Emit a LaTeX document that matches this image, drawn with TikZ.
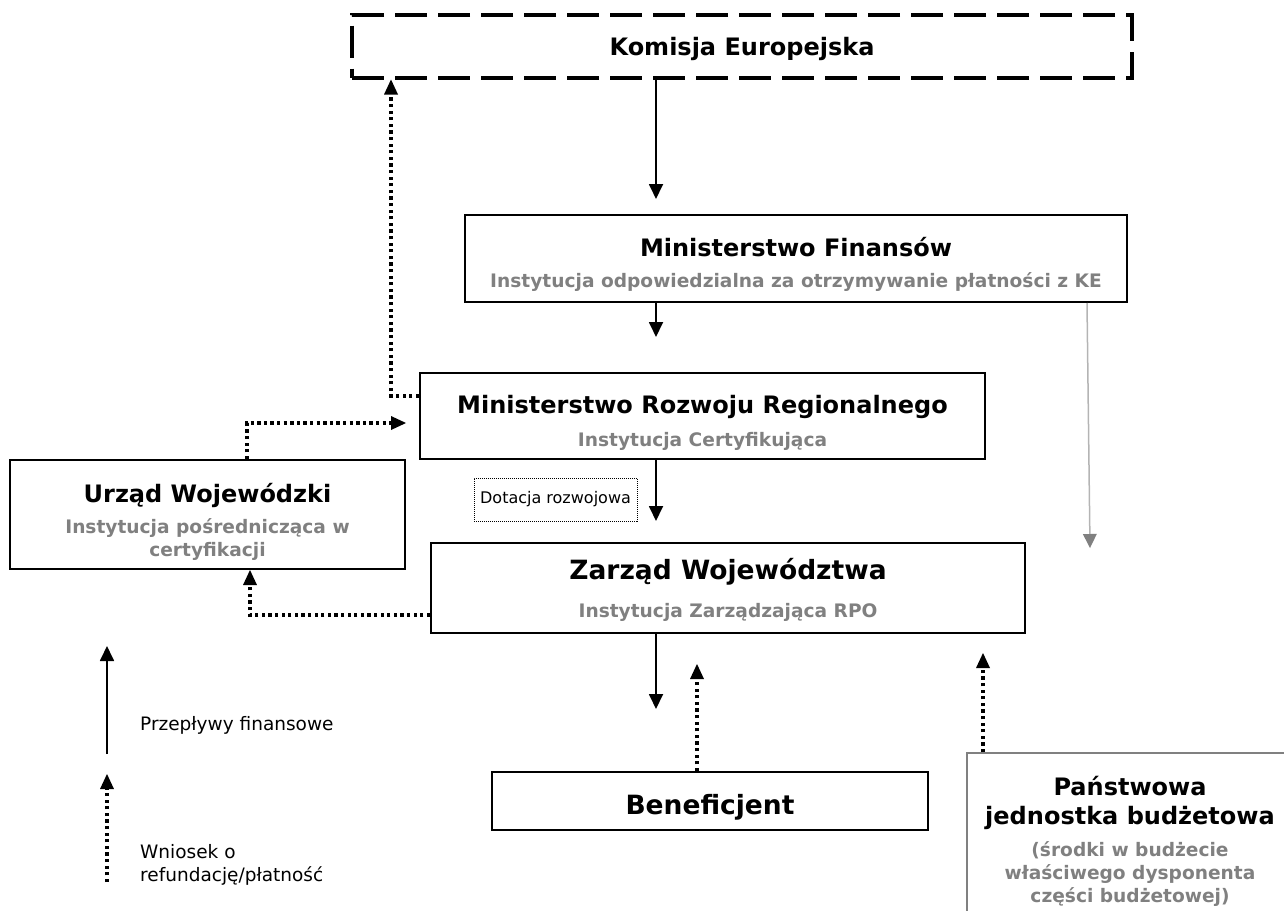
\documentclass[tikz,border=0pt]{standalone}
\usepackage{fontspec}
\usepackage{xcolor}
\setmainfont{DejaVu Sans}
\usetikzlibrary{arrows.meta,positioning}

\definecolor{subgrey}{HTML}{808080}
\definecolor{linegrey}{HTML}{B4B4B4}
\newcommand\boxtitle{\fontsize{24}{29}\selectfont\bfseries}
\newcommand\bigtitle{\fontsize{26.5}{31}\selectfont\bfseries}
\newcommand\boxsub{\fontsize{18.6}{23}\selectfont\bfseries\color{subgrey}}
\newcommand\topstrut[1]{\rule{0pt}{#1pt}}

\tikzset{
  box/.style={draw, line width=2pt, align=center, inner sep=0pt,
    font=\fontsize{18.6}{23}\selectfont},
  legend/.style={anchor=west, align=left, inner sep=0pt,
    font=\fontsize{18.5}{23}\selectfont},
  flow/.style={line width=1.8pt, -{Triangle[width=14pt,length=15pt]}},
  req/.style={line width=3.3pt, dash pattern=on 3.3pt off 3.3pt,
    -{Triangle[width=14pt,length=15pt,line width=0pt]}},
  greyflow/.style={line width=1.5pt, linegrey,
    -{Triangle[width=14pt,length=14pt,line width=0pt,color=subgrey]}},
}

\begin{document}
\begin{tikzpicture}[x=1pt,y=-1pt]
  \useasboundingbox (0,0) rectangle (1284,910);

  \node[box, line width=4pt, dash pattern=on 32pt off 11pt,
        minimum width=780pt, minimum height=63pt] (ke) at (742,46)
    {\topstrut{24.6}\boxtitle Komisja Europejska};
  \node[box, minimum width=662pt, minimum height=87pt] (mf) at (796,258.5)
    {\topstrut{31.4}\boxtitle Ministerstwo Finansów\\[8pt]\boxsub Instytucja odpowiedzialna za otrzymywanie płatności z KE};
  \node[box, minimum width=565pt, minimum height=86pt] (mrr) at (702.5,416)
    {\topstrut{31.4}\boxtitle Ministerstwo Rozwoju Regionalnego\\[10pt]\boxsub Instytucja Certyfikująca};
  \node[box, minimum width=395pt, minimum height=109pt] (uw) at (207.5,514.5)
    {\topstrut{33.4}\boxtitle Urząd Wojewódzki\\[8pt]\boxsub Instytucja pośrednicząca w\\\boxsub certyfikacji};
  \node[box, minimum width=594pt, minimum height=90pt] (zw) at (728,588)
    {\topstrut{24.4}\bigtitle Zarząd Województwa\\[15pt]\boxsub Instytucja Zarządzająca RPO};
  \node[box, minimum width=436pt, minimum height=58pt] (ben) at (710,801)
    {\topstrut{32.4}\bigtitle Beneficjent};
  \node[box, draw=subgrey, line width=1.5pt,
        minimum width=326pt, minimum height=174pt] (pjb) at (1130,840)
    {\topstrut{21.4}\boxtitle Państwowa\\[6pt]\boxtitle jednostka budżetowa\\[9pt]\boxsub (środki w budżecie\\\boxsub właściwego dysponenta\\\boxsub części budżetowej)};
  \node[draw, line width=1pt, dash pattern=on 1pt off 1pt, inner sep=0pt,
        minimum width=163pt, minimum height=43pt, font=\fontsize{16}{19}\selectfont] (dot) at (555.5,499.5) {Dotacja rozwojowa};

  \coordinate (colA) at (656,0);
  \coordinate (colB) at (697,0);
  \coordinate (colC) at (983,0);
  \coordinate (colD) at (391,0);
  \coordinate (colE) at (247,0);
  \coordinate (colF) at (250,0);
  \coordinate (gx) at (1087,0);
  \coordinate (greyend) at (1090,548);

  \draw[flow, shorten >=15pt] (ke.south -| colA) -- (mf.north -| colA);
  \draw[flow, shorten >=35pt] (mf.south -| colA) -- (mrr.north -| colA);
  \draw[flow, shorten >=21pt] (mrr.south -| colA) -- (zw.north -| colA);
  \draw[flow, shorten >=62pt] (zw.south -| colA) -- (ben.north -| colA);
  \draw[greyflow] (mf.south -| gx) -- (greyend);

  \draw[req, shorten >=30pt] (ben.north -| colB) -- (zw.south -| colB);
  \draw[req, shorten >=19pt] (pjb.north -| colC) -- (zw.south -| colC);
  \draw[req] ([yshift=20pt]mrr.west) -| (ke.south -| colD);
  \draw[req, shorten >=13pt] (uw.north -| colE) |- ([yshift=-7pt]mrr.west);
  \draw[req] ([yshift=-27pt]zw.west) -| (uw.south -| colF);

  \node[legend] (lgflow) at (140,725) {Przepływy finansowe};
  \node[legend] (lgreq) at (140,864.5) {Wniosek o\\refundację/płatność};
  \coordinate (lf1) at (107,754);
  \coordinate (lf2) at (107,646);
  \coordinate (lr1) at (107,882);
  \coordinate (lr2) at (107,774);
  \draw[flow] (lf1) -- (lf2);
  \draw[req] (lr1) -- (lr2);
\end{tikzpicture}
\end{document}
